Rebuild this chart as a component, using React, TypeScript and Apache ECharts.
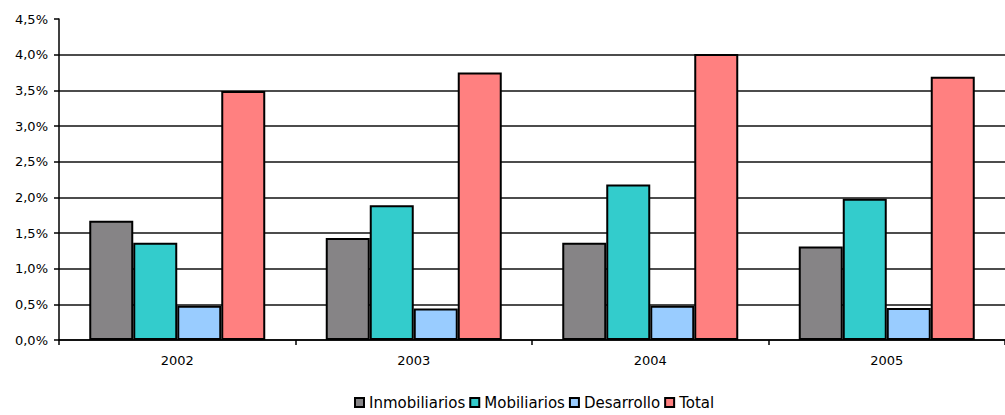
import React, { useEffect, useRef } from "react";
import * as echarts from "echarts";

const years = ["2002", "2003", "2004", "2005"];
const inmobiliarios = [1.67, 1.43, 1.365, 1.31];
const mobiliarios = [1.365, 1.89, 2.18, 1.98];
const desarrollo = [0.48, 0.44, 0.48, 0.45];
const total = [3.49, 3.75, 4.01, 3.69];
const seriesNames = ["Inmobiliarios", "Mobiliarios", "Desarrollo", "Total"];
const seriesColors = ["#868486", "#33CCCC", "#99CCFF", "#FF8080"];

const FONT = "DejaVu Sans";

export default function App() {
  const ref = useRef<HTMLDivElement>(null);
  useEffect(() => {
    if (!ref.current) return;
    const chart = echarts.init(ref.current, undefined, { renderer: "svg" });
    const data = [inmobiliarios, mobiliarios, desarrollo, total];
    chart.setOption({
      animation: false,
      backgroundColor: "#ffffff",
      grid: { left: 59, top: 19, width: 957, height: 321, containLabel: false },
      legend: {
        data: seriesNames,
        left: 354,
        top: 395,
        padding: 0,
        icon: "rect",
        itemWidth: 9,
        itemHeight: 9,
        itemGap: 4,
        textStyle: { fontFamily: FONT, fontSize: 15, color: "#000" },
      },
      xAxis: {
        type: "category",
        data: years,
        axisLine: { lineStyle: { color: "#000", width: 1.5 } },
        axisTick: { show: true, length: 5, lineStyle: { color: "#000", width: 1.5 } },
        axisLabel: { fontFamily: FONT, fontSize: 13, color: "#000", margin: 14 },
      },
      yAxis: {
        type: "value",
        min: 0,
        max: 4.5,
        interval: 0.5,
        axisLine: { show: true, lineStyle: { color: "#000", width: 1.5 } },
        axisTick: { show: true, length: 5, lineStyle: { color: "#000", width: 1.5 } },
        axisLabel: {
          fontFamily: FONT,
          fontSize: 13,
          color: "#000",
          margin: 11,
          formatter: (v: number) => v.toFixed(1).replace(".", ",") + "%",
        },
        splitLine: {
          show: true,
          showMaxLine: false,
          lineStyle: { color: "#111", width: 1.5 },
        },
      },
      series: seriesNames.map((name, i) => ({
        name,
        type: "bar",
        data: data[i],
        barWidth: 44,
        barGap: "0%",
        itemStyle: { color: seriesColors[i], borderColor: "#000", borderWidth: 2 },
      })),
    });
    return () => chart.dispose();
  }, []);
  return (
    <div
      ref={ref}
      style={{ position: "fixed", left: 0, top: 0, width: 1005, height: 415 }}
    />
  );
}
